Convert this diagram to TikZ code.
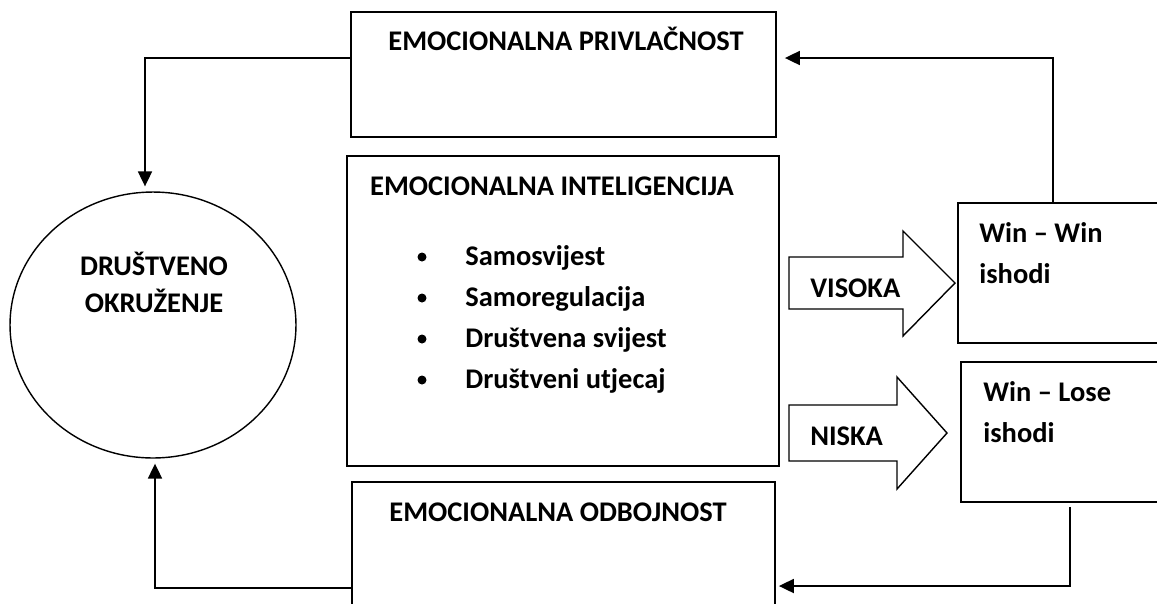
\documentclass[tikz,border=0pt]{standalone}
\usepackage{fontspec}
\setmainfont{Carlito}
\usetikzlibrary{shapes,arrows.meta,positioning}

\begin{document}
\begin{tikzpicture}[
  x=0.02cm, y=-0.02cm,
  font=\fontsize{16.2}{19}\selectfont\bfseries,
  box/.style={draw, line width=1.1pt, inner sep=0pt},
  lbl/.style={anchor=base, inner sep=0pt},
  link/.style={line width=0.9pt, -{Triangle[length=8.5pt,width=8pt]}},
  bigarrow/.style={draw, line width=0.8pt, line join=miter},
]
\useasboundingbox (0,0) rectangle (1157,603);
\clip (0,0) rectangle (1157,603);

% boxes
\node[box, minimum width=8.5cm, minimum height=2.5cm] (privl) at (563.5,74.5) {};
\node[box, minimum width=8.64cm, minimum height=6.2cm] (intel) at (563,311) {};
\node[box, minimum width=8.46cm, minimum height=3.2cm] (odboj) at (563.5,562) {};
\node[box, line width=0.8pt, ellipse, minimum width=5.72cm, minimum height=5.32cm] (okruz) at (153,325) {};
\node[box, minimum width=4.84cm, minimum height=2.8cm] (winwin) at (1079,273) {};
\node[box, minimum width=4.78cm, minimum height=2.8cm] (winlose) at (1080.5,432) {};

% texts
\node[lbl] (privl-t) at (566,50) {EMOCIONALNA PRIVLAČNOST};
\node[lbl] (intel-t) at (552,195) {EMOCIONALNA INTELIGENCIJA};
\node[lbl] (odboj-t) at (558,521) {EMOCIONALNA ODBOJNOST};
\node[lbl] (okruz-t1) at (154,275) {DRUŠTVENO};
\node[lbl] (okruz-t2) at (154,312) {OKRUŽENJE};
\node[lbl, anchor=base west] (winwin-t1) at (979,242) {Win – Win};
\node[lbl, anchor=base west] (winwin-t2) at (979,283) {ishodi};
\node[lbl, anchor=base west] (winlose-t1) at (983,401) {Win – Lose};
\node[lbl, anchor=base west] (winlose-t2) at (983,442) {ishodi};

\foreach \txt [count=\i] in {Samosvijest, Samoregulacija, Društvena svijest, Društveni utjecaj} {
  \node[lbl, anchor=base west] (item\i) at (465,{224+41*\i}) {\txt};
  \node[circle, fill, inner sep=0pt, minimum size=0.18cm] (dot\i) at (422,{216+41*\i}) {};
}

% block arrows
\draw[bigarrow] (789,257) -- (903,257) -- (903,231) -- (955,283) -- (903,336) -- (903,309) -- (789,309) -- cycle;
\node[lbl, anchor=base west] (visoka) at (810,297) {VISOKA};
\draw[bigarrow] (789,405) -- (897,405) -- (897,377) -- (947,433) -- (897,489) -- (897,461) -- (789,461) -- cycle;
\node[lbl, anchor=base west] (niska) at (810,445) {NISKA};

% connectors
\coordinate (c1) at (145,58);
\coordinate (c2) at (1053,58);
\coordinate (c3) at (1070,586);
\coordinate (c4) at (155,588);
\draw[link, shorten >=0.1cm] (c1 -| privl.west) -- (c1) -- (c1 |- okruz.north);
\draw[link, shorten >=0.16cm] (c2 |- winwin.north) -- (c2) -- (c2 -| privl.east);
\draw[link, shorten <=0.08cm, shorten >=0.06cm] (c3 |- winlose.south) -- (c3) -- (c3 -| odboj.east);
\draw[link, shorten >=0.1cm] (c4 -| odboj.west) -- (c4) -- (c4 |- okruz.south);
\end{tikzpicture}
\end{document}
